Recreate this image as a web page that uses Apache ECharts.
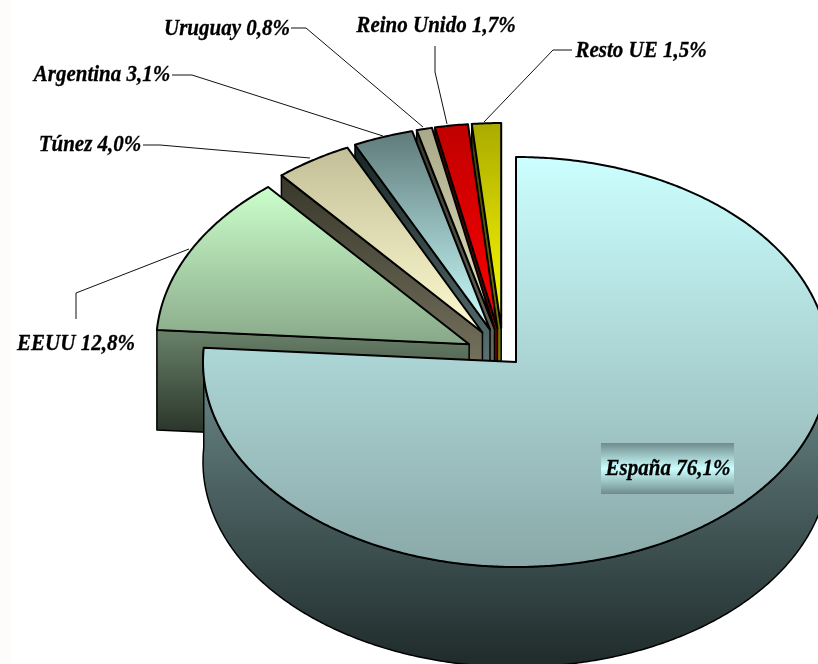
<!DOCTYPE html>
<html>
<head>
<meta charset="utf-8">
<title>Origen</title>
<script src="https://cdn.jsdelivr.net/npm/echarts@6/dist/echarts.min.js"></script>
<style>
  html, body { margin: 0; padding: 0; background: #fff; }
  #main { width: 818px; height: 664px; }
</style>
</head>
<body>
<div id="main"></div>
<script>
// datos
var categories = ['España', 'EEUU', 'Túnez', 'Argentina', 'Uruguay', 'Reino Unido', 'Resto UE'];
var shares = [76.1, 12.8, 4.0, 3.1, 0.8, 1.7, 1.5];

// colores: [cara arriba, cara abajo, lateral arriba, lateral abajo]
var sliceColors = [
  ['#ccffff', '#8aa8a8', '#6f8e8e', '#1f2a2a'],
  ['#ccffcc', '#88a888', '#6a826a', '#222c22'],
  ['#c2bf98', '#fffbd0', '#38382a', '#8a8570'],
  ['#5f7a7a', '#ccffff', '#182424', '#6d8a8a'],
  ['#a8a888', '#e6e6c0', '#38382c', '#77776a'],
  ['#c00000', '#ff0000', '#500000', '#900000'],
  ['#aaaa00', '#ffff00', '#404000', '#909000']
];

// geometria de la tarta (elipse en perspectiva)
var pieX = 516, pieY = 362, rx = 313, ry = 205, depth = 100;

// etiquetas y lineas guia
var labelPos = [
  [668, 469], [76, 344], [90, 145], [102, 75], [227, 29], [436, 26], [641, 51]
];
var leaders = [
  null,
  [[76, 319], [76, 293], [189, 249]],
  [[143, 145], [160, 145], [310, 158]],
  [[172, 75], [192, 75], [383, 136]],
  [[291, 28], [306, 28], [423, 127]],
  [[435, 46], [435, 72], [447, 124]],
  [[572, 50], [553, 50], [484, 122]]
];

function rad(deg) { return deg * Math.PI / 180; }

function arcPoint(cx, cy, deg, dy) {
  return [cx + rx * Math.sin(rad(deg)), cy - ry * Math.cos(rad(deg)) + (dy || 0)];
}

function vGrad(c1, c2) {
  return new echarts.graphic.LinearGradient(0, 0, 0, 1, [
    { offset: 0, color: c1 },
    { offset: 1, color: c2 }
  ]);
}

// angulos de inicio y fin de cada porcion
var total = shares.reduce(function (a, b) { return a + b; }, 0);
var startAngles = [];
var acc = 0;
shares.forEach(function (v) {
  startAngles.push(acc / total * 360);
  acc += v;
});

function renderSlice(params, api) {
  var i = api.value(0);
  var a0 = startAngles[i];
  var a1 = a0 + api.value(1) / total * 360;
  var mid = rad((a0 + a1) / 2);
  var colors = sliceColors[i];
  var cx = pieX, cy = pieY;
  var children = [];

  // todas menos la primera van separadas
  if (i > 0) {
    cx = pieX - 13 + 38 * Math.sin(mid);
    cy = pieY - 34 * Math.cos(mid) - 3 * Math.pow(Math.sin(mid), 2);
  }

  var top = [[cx, cy]];
  for (var a = a0; a < a1; a += 0.5) top.push(arcPoint(cx, cy, a));
  top.push(arcPoint(cx, cy, a1));

  var wall = [];
  if (i === 0) {
    // lateral exterior: del angulo final hacia atras por el frente
    var arcTop = [], arcBottom = [];
    for (var b = a1; b >= 90; b -= 0.5) {
      arcTop.push(arcPoint(cx, cy, b));
      arcBottom.push(arcPoint(cx, cy, b, depth));
    }
    wall = arcTop.concat(arcBottom.reverse());
  } else {
    // lateral del corte por el angulo inicial
    var p = arcPoint(cx, cy, a0);
    wall = [[cx, cy], p, [p[0], p[1] + depth], [cx, cy + depth]];
  }

  children.push({
    type: 'polygon',
    shape: { points: wall },
    style: { fill: vGrad(colors[2], colors[3]), stroke: '#000', lineWidth: 1.5, lineJoin: 'round' }
  });
  children.push({
    type: 'polygon',
    shape: { points: top },
    style: { fill: vGrad(colors[0], colors[1]), stroke: '#000', lineWidth: 2, lineJoin: 'round' }
  });
  return { type: 'group', children: children };
}

// se dibuja de atras hacia delante
var drawData = [];
for (var k = shares.length - 1; k >= 0; k--) drawData.push([k, shares[k]]);

// el original va estrecho: fuente mas alta y comprimida en x
var textFont = 'italic bold 24px "Liberation Serif", "Times New Roman", serif';

var graphics = [
  { type: 'rect', silent: true, z: 0, shape: { x: 0, y: 0, width: 10, height: 664 }, style: { fill: '#fefbfb' } },
  {
    type: 'rect', silent: true, z: 20,
    shape: { x: 601, y: 443, width: 133, height: 51 },
    style: {
      fill: new echarts.graphic.LinearGradient(0, 0, 0, 1, [
        { offset: 0, color: '#6f8c8c' },
        { offset: 0.5, color: '#ccffff' },
        { offset: 1, color: '#6f8c8c' }
      ])
    }
  }
];

categories.forEach(function (name, i) {
  if (leaders[i]) {
    graphics.push({
      type: 'polyline', silent: true, z: 20,
      shape: { points: leaders[i] },
      style: { fill: null, stroke: '#111', lineWidth: 1 }
    });
  }
  graphics.push({
    type: 'text', silent: true, z: 21,
    x: labelPos[i][0], y: labelPos[i][1],
    scaleX: 0.875,
    style: {
      text: name + ' ' + shares[i].toFixed(1).replace('.', ',') + '%',
      font: textFont,
      fill: '#000',
      stroke: '#000',
      lineWidth: 0.3,
      textAlign: 'center',
      textVerticalAlign: 'middle'
    }
  });
});

var myChart = echarts.init(document.getElementById('main'), null, { renderer: 'canvas' });
myChart.setOption({
  animation: false,
  backgroundColor: '#fff',
  series: [{
    type: 'custom',
    coordinateSystem: 'none',
    silent: true,
    clip: false,
    z: 5,
    renderItem: renderSlice,
    data: drawData
  }],
  graphic: { elements: graphics }
});
</script>
</body>
</html>
